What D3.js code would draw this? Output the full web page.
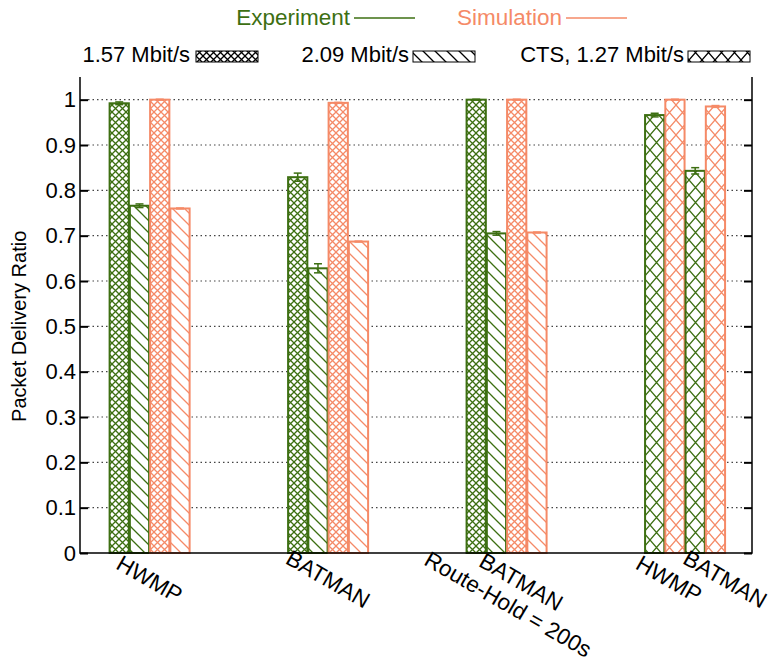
<!DOCTYPE html>
<html>
<head>
<meta charset="utf-8">
<script src="https://cdn.jsdelivr.net/npm/d3@7"></script>
<style>
	body { margin: 0; background: #fff; }
	svg { font-family: "Liberation Sans", Arial, sans-serif; }
</style>
</head>
<body>
<div id="chart"></div>
<script>
// groups on the x axis (the last one holds the CTS bars for both protocols)
const groups = ['HWMP', 'BATMAN', 'BATMAN Route-Hold', 'CTS'];

// 1.57 Mbit/s and 2.09 Mbit/s, first three groups
const exp157 = [0.992, 0.829, 1.0];
const exp157Err = [0.003, 0.009, 0.001];
const exp209 = [0.766, 0.628, 0.705];
const exp209Err = [0.004, 0.010, 0.004];
const sim157 = [1.0, 0.993, 1.0];
const sim209 = [0.760, 0.687, 0.707];
const simErr = [0.001, 0.001, 0.001];

// CTS, 1.27 Mbit/s : [HWMP, BATMAN]
const ctsExp = [0.966, 0.843];
const ctsExpErr = [0.004, 0.007];
const ctsSim = [1.0, 0.985];
const ctsSimErr = [0.001, 0.002];

const yTicks = [0, 0.1, 0.2, 0.3, 0.4, 0.5, 0.6, 0.7, 0.8, 0.9, 1];

// tick labels and where they sit on the x axis (group units)
const xLabels = [['HWMP'], ['BATMAN'], ['BATMAN', 'Route-Hold = 200s'], ['HWMP'], ['BATMAN']];
const xLabelPos = [0, 1, 2, 2.91, 3.225];

const keyRates = ['1.57 Mbit/s', '2.09 Mbit/s', 'CTS, 1.27 Mbit/s'];
const keySources = ['Experiment', 'Simulation'];

const colors = { exp: '#3d6f12', sim: '#f58a67', key: '#000' };

const width = 781, height = 662;
const margin = { top: 77, right: 29, bottom: 109, left: 80 };

const svg = d3.select('#chart').append('svg').attr('width', width).attr('height', height);

// scales
const x = d3.scaleLinear().domain([-0.39, 3.375]).range([margin.left, width - margin.right]);
const y = d3.scaleLinear().domain([0, 1.05]).range([height - margin.bottom, margin.top]);
const sub = d3.scaleBand().domain([0, 1, 2, 3]).range([-40, 40]).paddingInner(0.05);

// fill patterns, one per pattern kind and colour
const defs = svg.append('defs');
const patterns = {
	p157: { w: 7, h: 7, d: 'M0,0L7,7M7,0L0,7' },
	p209: { w: 12, h: 12, d: 'M0,0L12,12M-6,6L6,18M6,-6L18,6' },
	cts: { w: 13, h: 15, d: 'M0,0L13,15M13,0L0,15' },
};
for (const [name, p] of Object.entries(patterns)) {
	for (const [cname, col] of Object.entries(colors)) {
		const pat = defs.append('pattern')
			.attr('id', `${name}-${cname}`)
			.attr('patternUnits', 'userSpaceOnUse')
			.attr('width', p.w).attr('height', p.h);
		pat.append('rect').attr('width', p.w).attr('height', p.h).attr('fill', '#fff');
		pat.append('path').attr('d', p.d).attr('stroke', col).attr('stroke-width', 1.3).attr('fill', 'none');
	}
}

// build bar records
const bars = [];
for (let g = 0; g < 3; g++) {
	bars.push({ g, slot: 0, v: exp157[g], err: exp157Err[g], src: 'exp', pat: 'p157' });
	bars.push({ g, slot: 1, v: exp209[g], err: exp209Err[g], src: 'exp', pat: 'p209' });
	bars.push({ g, slot: 2, v: sim157[g], err: simErr[g], src: 'sim', pat: 'p157' });
	bars.push({ g, slot: 3, v: sim209[g], err: simErr[g], src: 'sim', pat: 'p209' });
}
for (let k = 0; k < 2; k++) {
	bars.push({ g: 3, slot: k * 2, v: ctsExp[k], err: ctsExpErr[k], src: 'exp', pat: 'cts' });
	bars.push({ g: 3, slot: k * 2 + 1, v: ctsSim[k], err: ctsSimErr[k], src: 'sim', pat: 'cts' });
}

const x0 = margin.left, x1 = width - margin.right, yBase = y(0);

// grid lines
svg.append('g').selectAll('line')
	.data(yTicks.filter(d => d > 0))
	.join('line')
	.attr('x1', x0 + 8).attr('x2', x1 - 8)
	.attr('y1', d => y(d)).attr('y2', d => y(d))
	.attr('stroke', '#444').attr('stroke-width', 1.1)
	.attr('stroke-dasharray', '1.5,3');

// bars
svg.append('g').selectAll('rect')
	.data(bars)
	.join('rect')
	.attr('x', d => x(d.g) + sub(d.slot))
	.attr('width', sub.bandwidth())
	.attr('y', d => y(d.v))
	.attr('height', d => yBase - y(d.v))
	.attr('fill', d => `url(#${d.pat}-${d.src})`)
	.attr('stroke', d => colors[d.src])
	.attr('stroke-width', 2);

// error bars
const eb = svg.append('g').selectAll('g')
	.data(bars)
	.join('g')
	.attr('stroke', d => colors[d.src])
	.attr('stroke-width', 1.5);
eb.append('line')
	.attr('x1', d => x(d.g) + sub(d.slot) + sub.bandwidth() / 2)
	.attr('x2', d => x(d.g) + sub(d.slot) + sub.bandwidth() / 2)
	.attr('y1', d => y(d.v - d.err)).attr('y2', d => y(d.v + d.err));
for (const s of [-1, 1]) {
	eb.append('line')
		.attr('x1', d => x(d.g) + sub(d.slot) + sub.bandwidth() / 2 - 4)
		.attr('x2', d => x(d.g) + sub(d.slot) + sub.bandwidth() / 2 + 4)
		.attr('y1', d => y(d.v + s * d.err)).attr('y2', d => y(d.v + s * d.err));
}

// axes: left, right, bottom
const yAxis = d3.axisLeft(y).tickValues(yTicks).tickSize(-8).tickPadding(4).tickFormat(d3.format('~g'));
const yAxisG = svg.append('g').attr('transform', `translate(${x0},0)`).call(yAxis);
yAxisG.select('.domain').remove();
yAxisG.selectAll('.tick line').attr('stroke-width', 2);
yAxisG.selectAll('.tick text').attr('font-size', 22).attr('fill', '#000').attr('font-family', 'Liberation Sans, Arial, sans-serif');

const yAxisR = d3.axisRight(y).tickValues(yTicks).tickSize(-8).tickFormat('');
const yAxisRG = svg.append('g').attr('transform', `translate(${x1},0)`).call(yAxisR);
yAxisRG.select('.domain').remove();
yAxisRG.selectAll('.tick line').attr('stroke-width', 2);

svg.append('path')
	.attr('d', `M${x0},${y(1.05)}V${yBase}H${x1}V${y(1.05)}`)
	.attr('fill', 'none').attr('stroke', '#000').attr('stroke-width', 1.5);

// y label
svg.append('text')
	.attr('transform', `translate(26, ${(y(0) + y(1)) / 2}) rotate(-90)`)
	.attr('text-anchor', 'middle')
	.attr('font-size', 20)
	.text('Packet Delivery Ratio');

// rotated x labels
const xl = svg.append('g').selectAll('text')
	.data(xLabels)
	.join('text')
	.attr('transform', (d, i) => `translate(${x(xLabelPos[i])}, 579) rotate(30)`)
	.attr('text-anchor', 'middle')
	.attr('font-size', 22.5);
xl.each(function (d) {
	const multi = d.length > 1;
	d3.select(this).selectAll('tspan')
		.data(d)
		.join('tspan')
		.attr('x', multi ? 14 : 0)
		.attr('y', (t, j) => (multi ? -5 : 0) + j * 26)
		.attr('dy', '0.35em')
		.text(t => t);
});

// key, row 1: sources
const keyTop = [{ textEnd: 350, l1: 354, l2: 415 }, { textEnd: 562, l1: 566, l2: 627 }];
keySources.forEach((s, i) => {
	const col = i === 0 ? colors.exp : colors.sim;
	svg.append('text')
		.attr('x', keyTop[i].textEnd).attr('y', 25)
		.attr('text-anchor', 'end').attr('font-size', 22.5)
		.attr('fill', col).text(s);
	svg.append('line')
		.attr('x1', keyTop[i].l1).attr('x2', keyTop[i].l2)
		.attr('y1', 18).attr('y2', 18)
		.attr('stroke', col).attr('stroke-width', 1.5);
});

// key, row 2: rates
const keyPat = ['p157', 'p209', 'cts'];
const keyRow = [{ textEnd: 190, sx: 196 }, { textEnd: 409, sx: 413 }, { textEnd: 684, sx: 688 }];
keyRates.forEach((r, i) => {
	svg.append('text')
		.attr('x', keyRow[i].textEnd).attr('y', 62)
		.attr('text-anchor', 'end').attr('font-size', 22)
		.text(r);
	svg.append('rect')
		.attr('x', keyRow[i].sx).attr('y', 51)
		.attr('width', 62).attr('height', 11)
		.attr('fill', `url(#${keyPat[i]}-key)`)
		.attr('stroke', '#000').attr('stroke-width', 1);
});
</script>
</body>
</html>
